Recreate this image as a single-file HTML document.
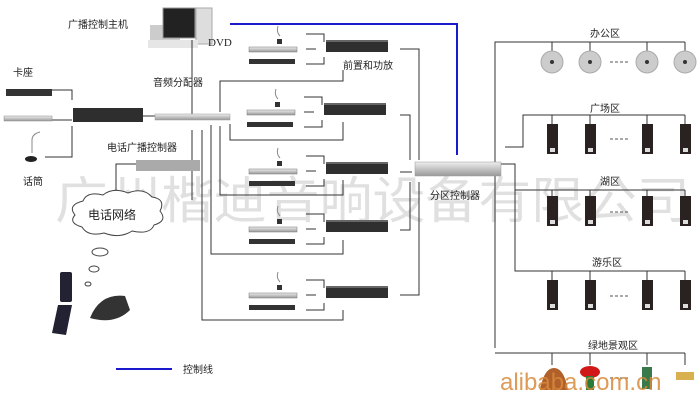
<!DOCTYPE html>
<html><head><meta charset="utf-8"><style>
html,body{margin:0;padding:0;background:#fff;width:700px;height:400px;overflow:hidden}
svg{display:block}
text{font-family:"Liberation Sans","Noto Sans CJK SC",sans-serif;fill:#222}
</style></head><body>
<svg width="700" height="400" viewBox="0 0 700 400" xmlns="http://www.w3.org/2000/svg">
<defs>
<linearGradient id="sil" x1="0" y1="0" x2="0" y2="1"><stop offset="0" stop-color="#eee"/><stop offset="1" stop-color="#999"/></linearGradient>
<g id="grp">
 <path d="M280,36 q-4,-4 -2,-10" stroke="#888" fill="none"/>
 <rect x="277" y="39" width="5" height="5" fill="#333"/>
 <rect x="249" y="47" width="48" height="5" fill="url(#sil)" stroke="#777" stroke-width="0.5"/>
 <rect x="249" y="59" width="46" height="5" fill="#333"/>
 <rect x="326" y="40" width="62" height="12" fill="#2f2f2f"/>
 <rect x="326" y="40" width="62" height="2" fill="#666"/>
 <g stroke="#333" fill="none">
  <path d="M306,34 H324 V42 M306,49 H316 M306,64 H324 V57"/>
 </g>
</g>
<g id="spk"><rect x="-5" y="0" width="11" height="30" fill="#2a2220"/><rect x="-2" y="24" width="5" height="4" fill="#ddd"/></g>
</defs>

<!-- watermark -->
<text x="55" y="218" font-size="50" fill="#e2e2e2" style="fill:#e0e0e0" textLength="635" lengthAdjust="spacingAndGlyphs">广州楷迪音响设备有限公司</text>

<!-- computer -->
<rect x="150" y="25" width="30" height="20" fill="#ccc"/>
<rect x="163" y="8" width="32" height="30" fill="#222" stroke="#999"/>
<rect x="196" y="8" width="16" height="36" fill="#ddd" stroke="#aaa"/>
<rect x="148" y="40" width="50" height="8" fill="#e6e6e6"/>
<text x="68" y="28" font-size="10">广播控制主机</text>
<text x="208" y="46" font-size="11" style="font-family:'Liberation Serif',serif">DVD</text>
<text x="153" y="86" font-size="10">音频分配器</text>

<!-- blue control line -->
<path d="M230,24 H457 V155" stroke="#1a1acc" stroke-width="2" fill="none"/>

<g stroke="#333" fill="none" stroke-width="1">
<!-- computer to distributor -->
<path d="M192,40 V114"/>
<path d="M192,130 V160 M192,130 M202,130 V200 M192,160 V200 M211,125 V254 H343 V240 M202,200 V320 H343 V310"/>
<path d="M220,112 V81 H343 V70"/>
<path d="M230,124 V140 H343 V122"/>
<path d="M220,126 V195 H343 V180"/>
<!-- amp outputs -->
<path d="M400,49 H419 V160 M400,115 H410 V160 M400,172 H412 M400,230 H410 V182 M400,295 H419 V182"/>
<!-- left -->
<path d="M52,90 H72 V100 M52,120 H72 M45,157 H72 V126 M143,116 H155"/>
<path d="M116,205 V164 H136"/>
<!-- right zones -->
<path d="M495,348 V42 H685 M552,42 V52 M590,42 V52 M647,42 V52 M685,42 V52"/>
<path d="M505,147 H523 V115 H685 M552,115 V124 M590,115 V124 M647,115 V124 M685,115 V124"/>
<path d="M500,164 H515 V271 H685 M515,190 H685 M552,190 V196 M590,190 V196 M647,190 V196 M685,190 V196 M552,271 V280 M590,271 V280 M647,271 V280 M685,271 V280"/>
<path d="M495,353 H685 M552,353 V365 M590,353 V365 M647,353 V365 M685,353 V365"/>
</g>

<!-- groups -->
<use href="#grp"/>
<use href="#grp" transform="translate(-2,63)"/>
<use href="#grp" transform="translate(0,122)"/>
<use href="#grp" transform="translate(0,180)"/>
<use href="#grp" transform="translate(0,246)"/>
<text x="343" y="69" font-size="10">前置和功放</text>

<!-- distributor -->
<rect x="155" y="114" width="75" height="6" fill="url(#sil)" stroke="#999" stroke-width="0.5"/>

<!-- left devices -->
<text x="13" y="76" font-size="10">卡座</text>
<rect x="6" y="89" width="46" height="7" fill="#333"/>
<rect x="4" y="116" width="48" height="5" fill="url(#sil)" stroke="#888" stroke-width="0.5"/>
<path d="M32,153 V140 q0,-6 8,-8" stroke="#888" fill="none"/>
<ellipse cx="31" cy="159" rx="6" ry="3" fill="#222"/>
<text x="23" y="185" font-size="10">话筒</text>
<rect x="73" y="108" width="70" height="14" fill="#2e2e2e"/>
<text x="107" y="151" font-size="10">电话广播控制器</text>
<rect x="136" y="160" width="64" height="11" fill="#aaa"/>

<!-- cloud -->
<path d="M75,215 q-8,-10 8,-14 q4,-10 20,-6 q10,-8 25,-2 q15,-6 24,4 q14,2 8,14 q8,10 -6,14 q-4,10 -22,6 q-12,8 -28,2 q-16,4 -22,-6 q-14,-4 -7,-12z" fill="#fff" stroke="#444"/>
<text x="88" y="219" font-size="12">电话网络</text>
<ellipse cx="100" cy="252" rx="8" ry="4" fill="#fff" stroke="#444"/>
<ellipse cx="94" cy="269" rx="5" ry="3" fill="#fff" stroke="#444"/>
<ellipse cx="88" cy="284" rx="3" ry="2" fill="#fff" stroke="#444"/>
<rect x="60" y="272" width="12" height="30" rx="2" fill="#223"/>
<path d="M58,305 L72,305 L66,335 L52,333z" fill="#223"/>
<path d="M90,318 q10,-25 35,-22 l5,14 q-15,15 -40,8z" fill="#333"/>

<!-- controller -->
<rect x="415" y="162" width="86" height="14" fill="url(#sil)" stroke="#999" stroke-width="0.5"/>
<text x="430" y="199" font-size="10">分区控制器</text>

<!-- zones -->
<text x="590" y="37" font-size="10">办公区</text>
<g fill="#ccc" stroke="#aaa"><circle cx="552" cy="62" r="11"/><circle cx="590" cy="62" r="11"/><circle cx="647" cy="62" r="11"/><circle cx="685" cy="62" r="11"/></g>
<g fill="#333"><circle cx="552" cy="62" r="2"/><circle cx="590" cy="62" r="2"/><circle cx="647" cy="62" r="2"/><circle cx="685" cy="62" r="2"/></g>
<text x="590" y="112" font-size="10">广场区</text>
<use href="#spk" x="552" y="124"/><use href="#spk" x="590" y="124"/><use href="#spk" x="647" y="124"/><use href="#spk" x="685" y="124"/>
<text x="600" y="185" font-size="10">湖区</text>
<use href="#spk" x="552" y="196"/><use href="#spk" x="590" y="196"/><use href="#spk" x="647" y="196"/><use href="#spk" x="685" y="196"/>
<text x="592" y="266" font-size="10">游乐区</text>
<use href="#spk" x="552" y="280"/><use href="#spk" x="590" y="280"/><use href="#spk" x="647" y="280"/><use href="#spk" x="685" y="280"/>
<g stroke="#555" stroke-dasharray="3,2"><path d="M610,62 H630 M610,139 H630 M610,212 H630 M610,296 H630 M610,378 H630"/></g>
<text x="588" y="349" font-size="10">绿地景观区</text>
<path d="M540,390 q4,-22 14,-22 q10,0 14,22z" fill="#b0602a"/>
<ellipse cx="590" cy="372" rx="10" ry="6" fill="#d01818"/><rect x="586" y="376" width="8" height="14" fill="#2a7a3a"/>
<rect x="642" y="367" width="10" height="22" fill="#3a7a4a"/>
<rect x="676" y="372" width="18" height="8" fill="#d8b050"/>

<text x="500" y="390" font-size="24" style="fill:#d88a3a" fill-opacity="0.85">alibaba.com.cn</text>

<!-- legend -->
<path d="M116,369 H172" stroke="#1a1acc" stroke-width="2"/>
<text x="183" y="373" font-size="10">控制线</text>
</svg>
</body></html>
